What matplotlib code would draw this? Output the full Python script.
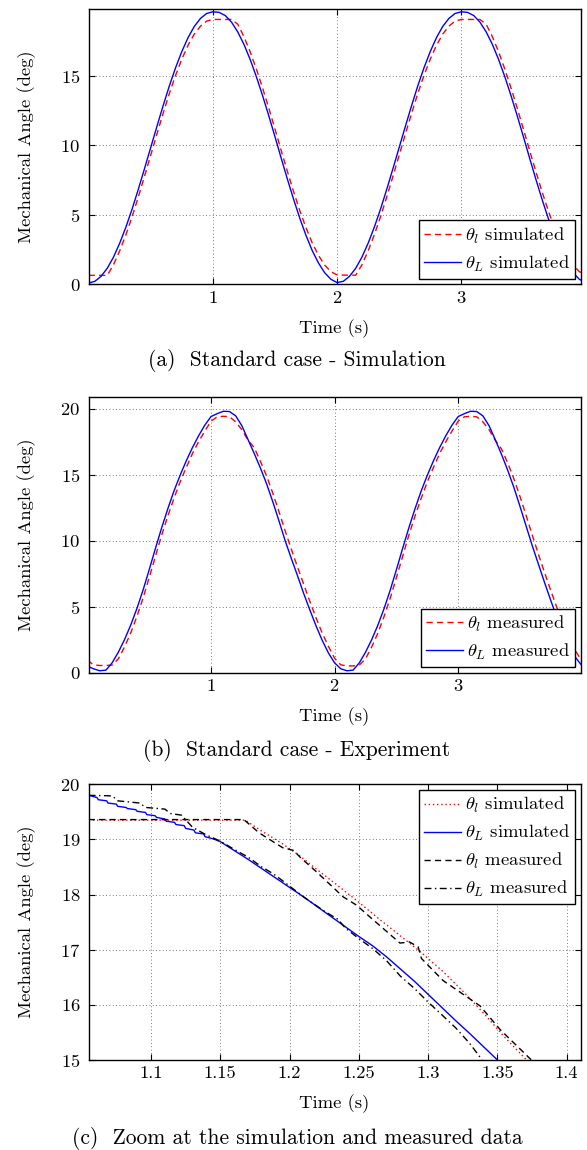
import numpy as np
import matplotlib
matplotlib.use('Agg')
import matplotlib.pyplot as plt
from matplotlib.ticker import FuncFormatter

# LaTeX-like look
plt.rcParams['font.family'] = 'serif'
plt.rcParams['font.serif'] = ['cmr10']
plt.rcParams['mathtext.fontset'] = 'cm'
plt.rcParams['axes.formatter.use_mathtext'] = True
plt.rcParams['font.size'] = 13.4
plt.rcParams['axes.linewidth'] = 1.0

# ---- data ----
# sampling of the full runs (s)
time_s = np.arange(0, 4.001, 0.05)

# (a) simulation
theta_L_sim = [0.10, 0.22, 0.58, 1.16, 1.96, 2.96, 4.12, 5.42, 6.84, 8.33, 9.85, 11.37, 12.86, 14.28, 15.58, 16.74, 17.74, 18.54, 19.12, 19.48, 19.60,
               19.56, 19.33, 18.86, 18.16, 17.26, 16.18, 14.94, 13.58, 12.13, 10.62, 9.08, 7.57, 6.12, 4.75, 3.52, 2.43, 1.54, 0.84, 0.37, 0.13,
               0.22, 0.58, 1.16, 1.96, 2.96, 4.12, 5.42, 6.84, 8.33, 9.85, 11.37, 12.86, 14.28, 15.58, 16.74, 17.74, 18.54, 19.12, 19.48, 19.60,
               19.56, 19.33, 18.86, 18.16, 17.26, 16.18, 14.94, 13.58, 12.13, 10.62, 9.08, 7.57, 6.12, 4.75, 3.52, 2.43, 1.54, 0.84, 0.37, 0.13]
theta_l_sim = [0.65, 0.65, 0.65, 0.65, 1.41, 2.41, 3.57, 4.87, 6.29, 7.78, 9.30, 10.82, 12.31, 13.73, 15.03, 16.19, 17.19, 17.99, 18.57, 18.93, 19.05,
               19.05, 19.05, 19.05, 18.71, 17.81, 16.73, 15.49, 14.13, 12.68, 11.17, 9.63, 8.12, 6.67, 5.30, 4.07, 2.98, 2.09, 1.39, 0.92, 0.68,
               0.67, 0.66, 0.66, 1.41, 2.41, 3.57, 4.87, 6.29, 7.78, 9.30, 10.82, 12.31, 13.73, 15.03, 16.19, 17.19, 17.99, 18.57, 18.93, 19.05,
               19.05, 19.05, 19.05, 18.71, 17.81, 16.73, 15.49, 14.13, 12.68, 11.17, 9.63, 8.12, 6.67, 5.30, 4.07, 2.98, 2.09, 1.39, 0.92, 0.68]

# (b) experiment
theta_L_meas = [0.50, 0.30, 0.15, 0.20, 0.75, 1.55, 2.50, 3.60, 4.85, 6.25, 7.80, 9.40, 10.95, 12.40, 13.75, 14.95, 16.05, 17.05, 17.95, 18.75, 19.40,
                19.62, 19.80, 19.78, 19.45, 18.70, 17.65, 16.60, 15.50, 14.30, 12.95, 11.50, 10.00, 8.65, 7.35, 6.00, 4.75, 3.55, 2.45, 1.50, 0.75,
                0.30, 0.15, 0.20, 0.75, 1.55, 2.50, 3.60, 4.85, 6.25, 7.80, 9.40, 10.95, 12.40, 13.75, 14.95, 16.05, 17.05, 17.95, 18.75, 19.40,
                19.62, 19.80, 19.78, 19.45, 18.70, 17.65, 16.55, 15.35, 14.05, 12.60, 11.10, 9.60, 8.20, 6.80, 5.45, 4.15, 3.00, 2.00, 1.15, 0.55]
theta_l_meas = [0.95, 0.60, 0.55, 0.55, 0.58, 1.05, 1.95, 3.00, 4.25, 5.65, 7.20, 8.80, 10.40, 11.85, 13.20, 14.45, 15.55, 16.60, 17.50, 18.30, 19.05,
                19.38, 19.42, 19.38, 19.00, 18.40, 17.60, 17.05, 16.00, 14.90, 13.60, 12.20, 10.75, 9.35, 8.00, 6.70, 5.40, 4.15, 3.00, 2.00, 1.10,
                0.60, 0.52, 0.52, 0.58, 1.05, 1.95, 3.00, 4.25, 5.65, 7.20, 8.80, 10.40, 11.85, 13.20, 14.45, 15.55, 16.60, 17.50, 18.30, 19.05,
                19.38, 19.42, 19.38, 19.00, 18.40, 17.60, 16.95, 15.90, 14.70, 13.35, 11.90, 10.40, 8.95, 7.55, 6.20, 4.90, 3.70, 2.60, 1.65, 0.90]

# (c) zoom around the first peak
zoom_t_l_sim = [1.055, 1.168, 1.18, 1.195, 1.2075, 1.22, 1.235, 1.25, 1.265, 1.28, 1.295, 1.31, 1.325, 1.34, 1.355, 1.371]
zoom_l_sim = [19.35, 19.35, 19.15, 18.92, 18.70, 18.45, 18.16, 17.86, 17.55, 17.25, 16.95, 16.62, 16.25, 15.85, 15.42, 15.0]

zoom_t_L_sim = [1.055, 1.061, 1.062, 1.068, 1.069, 1.075, 1.076, 1.082, 1.083, 1.089, 1.090, 1.096, 1.097, 1.103, 1.104,
                1.110, 1.111, 1.117, 1.118, 1.124, 1.125, 1.131, 1.132, 1.138, 1.139, 1.145, 1.15, 1.16, 1.17, 1.18, 1.19,
                1.20, 1.21, 1.22, 1.23, 1.24, 1.25, 1.26, 1.27, 1.28, 1.29, 1.30, 1.31, 1.32, 1.33, 1.34, 1.35]
zoom_L_sim = [19.80, 19.76, 19.72, 19.70, 19.66, 19.64, 19.60, 19.58, 19.56, 19.54, 19.51, 19.49, 19.45, 19.43, 19.40,
              19.37, 19.33, 19.31, 19.27, 19.25, 19.20, 19.17, 19.12, 19.10, 19.05, 19.01, 18.96, 18.80, 18.64, 18.47, 18.30,
              18.13, 17.96, 17.78, 17.60, 17.42, 17.24, 17.07, 16.87, 16.65, 16.43, 16.19, 15.95, 15.71, 15.48, 15.24, 15.0]

zoom_t_l_meas = [1.055, 1.167, 1.178, 1.195, 1.203, 1.2075, 1.22, 1.2386, 1.2482, 1.26, 1.2797, 1.2866, 1.2928, 1.2952, 1.3108, 1.3375, 1.352, 1.3745]
zoom_l_meas = [19.36, 19.36, 19.12, 18.85, 18.80, 18.68, 18.40, 17.96, 17.81, 17.55, 17.12, 17.14, 17.05, 16.84, 16.44, 15.98, 15.55, 15.0]

zoom_t_L_meas = [1.055, 1.072, 1.076, 1.092, 1.096, 1.11, 1.114, 1.122, 1.13, 1.14, 1.15, 1.16, 1.17, 1.18, 1.188, 1.195,
                 1.21, 1.225, 1.235, 1.24, 1.249, 1.26, 1.27, 1.28, 1.29, 1.30, 1.309, 1.32, 1.33, 1.339]
zoom_L_meas = [19.80, 19.79, 19.70, 19.66, 19.58, 19.55, 19.47, 19.44, 19.22, 19.08, 18.97, 18.82, 18.68, 18.50, 18.38, 18.25,
               17.96, 17.70, 17.55, 17.40, 17.22, 17.02, 16.80, 16.52, 16.30, 16.05, 15.84, 15.58, 15.30, 15.0]

full_xticks = [1, 2, 3]
zoom_xticks = [1.1, 1.15, 1.2, 1.25, 1.3, 1.35, 1.4]

captions = ['(a)  Standard case - Simulation',
            '(b)  Standard case - Experiment',
            '(c)  Zoom at the simulation and measured data']

# ---- figure ----
fig = plt.figure(figsize=(5.87, 11.5), dpi=100)
ax_a = fig.add_axes([0.151, 0.7527, 0.838, 0.2397])
ax_b = fig.add_axes([0.151, 0.4150, 0.838, 0.2400])
ax_c = fig.add_axes([0.151, 0.0783, 0.838, 0.2397])

DASH = (4.5, 3)
DOT = (1, 2)
DASHDOT = (5, 2.5, 1, 2.5)

ax_a.plot(time_s, theta_l_sim, color='r', lw=1.0, dashes=DASH, label=r'$\theta_l$ simulated')
ax_a.plot(time_s, theta_L_sim, color='b', lw=1.0, label=r'$\theta_L$ simulated')
ax_a.set_xlim(0, 3.96)
ax_a.set_ylim(0, 19.82)
ax_a.set_yticks([0, 5, 10, 15])

ax_b.plot(time_s, theta_l_meas, color='r', lw=1.0, dashes=DASH, label=r'$\theta_l$ measured')
ax_b.plot(time_s, theta_L_meas, color='b', lw=1.0, label=r'$\theta_L$ measured')
ax_b.set_xlim(0.01, 3.99)
ax_b.set_ylim(0, 20.9)
ax_b.set_yticks([0, 5, 10, 15, 20])

ax_c.plot(zoom_t_l_sim, zoom_l_sim, color='r', lw=1.0, dashes=DOT, label=r'$\theta_l$ simulated')
ax_c.plot(zoom_t_L_sim, zoom_L_sim, color='b', lw=1.0, label=r'$\theta_L$ simulated')
ax_c.plot(zoom_t_l_meas, zoom_l_meas, color='k', lw=1.0, dashes=DASH, label=r'$\theta_l$ measured')
ax_c.plot(zoom_t_L_meas, zoom_L_meas, color='k', lw=1.0, dashes=DASHDOT, label=r'$\theta_L$ measured')
ax_c.set_xlim(1.055, 1.41)
ax_c.set_ylim(15, 20)
ax_c.set_xticks(zoom_xticks)
ax_c.xaxis.set_major_formatter(FuncFormatter(lambda v, p: f'{v:g}'))

for ax in (ax_a, ax_b):
    ax.set_xticks(full_xticks)

for ax in (ax_a, ax_b, ax_c):
    ax.grid(True, linestyle=(0, (1, 3)), linewidth=0.6, color='0.3')
    ax.tick_params(direction='in', top=True, right=True, length=4, width=0.8)
    ax.tick_params(axis='x', pad=4)
    ax.tick_params(axis='y', pad=6)
    ax.set_xlabel('Time (s)')
    ax.set_ylabel('Mechanical Angle (deg)')
    ax.xaxis.set_label_coords(0.5, -0.125)
    ax.yaxis.set_label_coords(-0.108, 0.5)

loc = {ax_a: 'lower right', ax_b: 'lower right', ax_c: 'upper right'}
for ax in (ax_a, ax_b, ax_c):
    leg = ax.legend(loc=loc[ax], fancybox=False, edgecolor='k', framealpha=1,
                    borderaxespad=0.3, handlelength=2.0, handletextpad=0.2,
                    borderpad=0.28, labelspacing=0.42)
    leg.get_frame().set_linewidth(1.0)

fig.text(0.506, 0.6861, captions[0], ha='center', va='center', fontsize=15.5)
fig.text(0.506, 0.3470, captions[1], ha='center', va='center', fontsize=15.5)
fig.text(0.506, 0.0104, captions[2], ha='center', va='center', fontsize=15.5)

fig.savefig('out.png', dpi=100)
